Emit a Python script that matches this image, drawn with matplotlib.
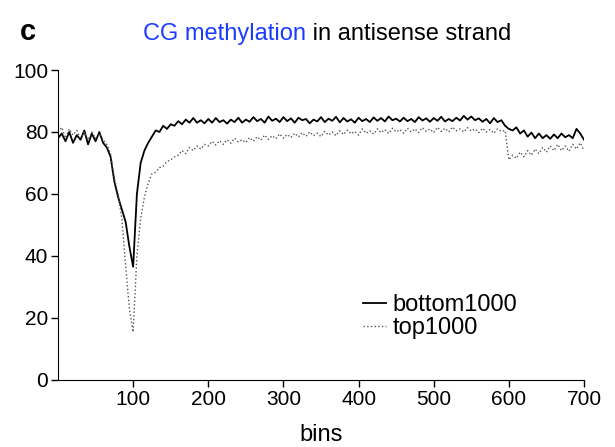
import matplotlib
matplotlib.use("Agg")
import matplotlib.pyplot as plt
import numpy as np

plt.rcParams["font.family"] = ["Liberation Sans", "DejaVu Sans"]

# bin positions (every 5 bins) and values
bins = np.arange(0, 701, 5)

bottom1000 = [
    78, 79.5, 77, 80, 76.5, 79, 77.5, 80.5, 76, 79.5,
    77, 80, 76.5, 75, 72, 64, 59, 55, 51, 43,
    36.5, 60, 70, 74, 76.5, 78.5, 80.5, 80, 82, 81,
    82.5, 82, 83.5, 82.5, 84, 83, 84.5, 83, 83.8, 82.8,
    84.2, 83, 84.5, 83.2, 83.8, 82.7, 84, 83.2, 84.6, 83,
    84, 83.3, 84.8, 83.5, 84.2, 83, 85, 83.6, 84.3, 83.2,
    84.8, 83.5, 84.4, 83, 84.6, 83.8, 84.2, 82.8, 84, 83.4,
    84.8, 83.2, 84.3, 83.6, 84.9, 83.1, 84.5, 83.4, 84.1, 83,
    84.6, 83.5, 84.2, 83.2, 84.7, 83.6, 84.5, 83.4, 85, 83.8,
    84.3, 83.4, 84.6, 83.5, 84.2, 83.2, 84.8, 83.7, 84.4, 83.3,
    84.5, 83.6, 84.9, 83.4, 84.2, 83.5, 84.6, 83.7, 85.2, 84,
    85, 83.8, 84.4, 83.3, 84.2, 82.8, 84.5, 83.2, 83.8, 82,
    81, 80.5, 81.5, 79.5, 80.5, 78.5, 79.8, 78, 79.5, 78,
    79, 77.8, 79.2, 78, 79.5, 78.3, 79, 78, 81, 79.5,
    77.5,
]

top1000 = [
    80, 81.5, 78, 81, 79, 80.5, 78, 80, 77.5, 80,
    78, 79.5, 77.5, 76, 73, 65, 60, 52, 37, 23,
    15.5, 40, 52, 59, 63.5, 66.5, 67, 68.5, 69, 70.5,
    71, 72, 72.5, 74, 73, 75, 74, 75.5, 74.5, 76,
    75.5, 77, 75.8, 77.2, 76, 77.5, 76.4, 78, 76.8, 77.5,
    76.6, 78.2, 77, 78.5, 77.4, 79, 77.6, 78.8, 77.8, 79.4,
    78, 79.2, 78.2, 79.6, 78.4, 79.8, 78.6, 80, 78.8, 79.6,
    78.5, 80.2, 79, 80, 78.8, 80.4, 79.2, 80.6, 79.4, 80.2,
    79, 81, 79.6, 80.4, 79.3, 81, 79.8, 80.8, 79.5, 81.2,
    80, 80.8, 79.6, 81.2, 80, 81, 79.8, 81.4, 80.2, 81,
    79.8, 81.5, 80.2, 81.2, 80, 81.6, 80.4, 81, 80, 81.4,
    80.3, 81, 79.8, 81.2, 80, 80.8, 79.6, 81, 80.2, 80.5,
    71, 72.5, 71.5, 73.5, 72, 74, 72.5, 74.5, 73, 75,
    73.5, 75.5, 74, 76, 74, 75.5, 73.8, 76, 74.5, 76.5,
    74,
]

fig = plt.figure(figsize=(6.15, 4.47), dpi=100)
ax = fig.add_axes([0.0943, 0.150, 0.8553, 0.6934])

ax.plot(bins, bottom1000, color="black", linewidth=1.3, label="bottom1000")
ax.plot(bins, top1000, color="#555555", linestyle=":", linewidth=1.0, label="top1000")

ax.set_xlim(0, 700)
ax.set_ylim(0, 100)
ax.set_xticks([100, 200, 300, 400, 500, 600, 700])
ax.set_yticks([0, 20, 40, 60, 80, 100])
ax.tick_params(labelsize=15, length=5, width=1, direction="out", pad=2)
ax.spines["top"].set_visible(False)
ax.spines["right"].set_visible(False)
ax.set_xlabel("bins", fontsize=17, labelpad=11)

leg = ax.legend(loc="upper left", bbox_to_anchor=(0.58, 0.278), frameon=False,
                fontsize=17, handlelength=0.95, handletextpad=0.3,
                labelspacing=0.05, borderaxespad=0, borderpad=0)

# title: blue part + black part
t1 = fig.text(0.2325, 0.91, "CG methylation", color="#1a3cff", fontsize=17, va="baseline")
fig.canvas.draw()
ax.annotate(" in antisense strand", xy=(1, 0), xycoords=t1, va="bottom",
            fontsize=17, color="black")
fig.text(0.033, 0.91, "c", fontsize=21, fontweight="bold", va="baseline")

fig.savefig("out.png", dpi=100)
